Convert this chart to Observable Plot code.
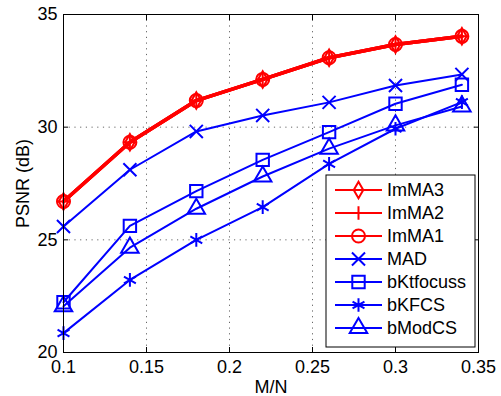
<!DOCTYPE html>
<html>
<head>
<meta charset="utf-8">
<script src="https://cdn.jsdelivr.net/npm/d3@7"></script>
<script src="https://cdn.jsdelivr.net/npm/@observablehq/plot@0.6"></script>
<style>
  html, body { margin: 0; padding: 0; background: white; }
  #chart { width: 501px; height: 396px; }
</style>
</head>
<body>
<div id="chart"></div>
<script>
// ---- data ----
const mn = [0.1, 0.14, 0.18, 0.22, 0.26, 0.3, 0.34];
const imma3 = [26.70, 29.33, 31.18, 32.12, 33.08, 33.67, 34.03];
const imma2 = [26.70, 29.33, 31.18, 32.12, 33.08, 33.67, 34.03];
const imma1 = [26.70, 29.33, 31.18, 32.12, 33.08, 33.67, 34.03];
const mad = [25.59, 28.11, 29.81, 30.52, 31.10, 31.85, 32.34];
const bktfocuss = [22.23, 25.62, 27.16, 28.55, 29.78, 31.04, 31.88];
const bkfcs = [20.86, 23.22, 25.00, 26.45, 28.37, 29.93, 31.11];
const bmodcs = [22.05, 24.65, 26.38, 27.81, 29.05, 30.08, 30.92];
const seriesNames = ["ImMA3", "ImMA2", "ImMA1", "MAD", "bKtfocuss", "bKFCS", "bModCS"];
const xTicks = [0.1, 0.15, 0.2, 0.25, 0.3, 0.35];
const yTicks = [20, 25, 30, 35];

// ---- styles ----
const RED = "#ff0000", BLUE = "#0000ff";
const styles = [
  {values: imma3, color: RED, symbol: "diamond", d3sym: d3.symbolDiamond, r: 5, lw: 3.5},
  {values: imma2, color: RED, symbol: "plus", d3sym: d3.symbolPlus, r: 4.5, lw: 3.5},
  {values: imma1, color: RED, symbol: "circle", d3sym: d3.symbolCircle, r: 6.5, lw: 3.5},
  {values: mad, color: BLUE, symbol: "times", d3sym: d3.symbolTimes, r: 6, lw: 2},
  {values: bktfocuss, color: BLUE, symbol: "square", d3sym: d3.symbolSquare, r: 7, lw: 2},
  {values: bkfcs, color: BLUE, symbol: "asterisk", d3sym: d3.symbolAsterisk, r: 6.5, lw: 2},
  {values: bmodcs, color: BLUE, symbol: "triangle", d3sym: d3.symbolTriangle, r: 6.5, lw: 2}
];

const series = seriesNames.map((name, i) => ({name, ...styles[i],
  data: mn.map((x, j) => ({x, y: styles[i].values[j], name}))}));

const FONT = "'Liberation Sans', Arial, Helvetica, sans-serif";

const marks = [
  Plot.gridX(xTicks, {stroke: "#666", strokeOpacity: 1, strokeDasharray: "1.2,4.5", strokeWidth: 1}),
  Plot.gridY(yTicks, {stroke: "#666", strokeOpacity: 1, strokeDasharray: "1.2,4.5", strokeWidth: 1}),
];
for (const s of series) {
  marks.push(Plot.line(s.data, {x: "x", y: "y", stroke: s.color, strokeWidth: s.lw}));
}
for (const s of series) {
  marks.push(Plot.dot(s.data, {x: "x", y: "y", stroke: s.color, fill: "none", symbol: s.symbol, r: s.r, strokeWidth: 2}));
}
marks.push(
  Plot.frame({stroke: "black", strokeWidth: 1}),
  Plot.axisX(xTicks, {anchor: "bottom", tickSize: -5, tickPadding: 13, tickFormat: d => String(d),
    label: "M/N", labelAnchor: "center", labelArrow: "none", labelOffset: 40, fontSize: 18}),
  Plot.axisX(xTicks, {anchor: "top", tickSize: -5, tickFormat: () => "", label: null}),
  Plot.axisY(yTicks, {anchor: "left", tickSize: -5, tickPadding: 11, tickFormat: d => String(d),
    label: "PSNR (dB)", labelAnchor: "center", labelArrow: "none", labelOffset: 47, fontSize: 18}),
  Plot.axisY(yTicks, {anchor: "right", tickSize: -5, tickFormat: () => "", label: null})
);

const svg = Plot.plot({
  width: 501, height: 396,
  marginLeft: 63, marginRight: 23, marginTop: 14, marginBottom: 44,
  style: {fontFamily: FONT, fontSize: "18px", color: "black", background: "white", overflow: "visible"},
  x: {domain: [0.1, 0.35]},
  y: {domain: [20, 35]},
  marks
});
document.getElementById("chart").appendChild(svg);

// ---- legend ----
const lg = d3.select(svg).append("g").attr("font-family", FONT).attr("text-anchor", "start");
const lx = 326, ly = 175, lw = 149, rowH = 23;
lg.append("rect").attr("x", lx).attr("y", ly).attr("width", lw).attr("height", 15 + rowH * series.length - 4)
  .attr("fill", "white").attr("stroke", "black").attr("stroke-width", 1);
series.forEach((s, i) => {
  const cy = ly + 15 + rowH * i;
  lg.append("line").attr("x1", lx + 9).attr("x2", lx + 56).attr("y1", cy).attr("y2", cy)
    .attr("stroke", s.color).attr("stroke-width", 2);
  lg.append("path").attr("d", d3.symbol(s.d3sym, Math.PI * s.r * s.r)())
    .attr("transform", `translate(${lx + 32.5},${cy})`)
    .attr("fill", "none").attr("stroke", s.color).attr("stroke-width", 2);
  lg.append("text").attr("x", lx + 61).attr("y", cy).attr("dy", "0.35em")
    .attr("font-size", 18).attr("fill", "black").attr("text-anchor", "start").text(s.name);
});
</script>
</body>
</html>
